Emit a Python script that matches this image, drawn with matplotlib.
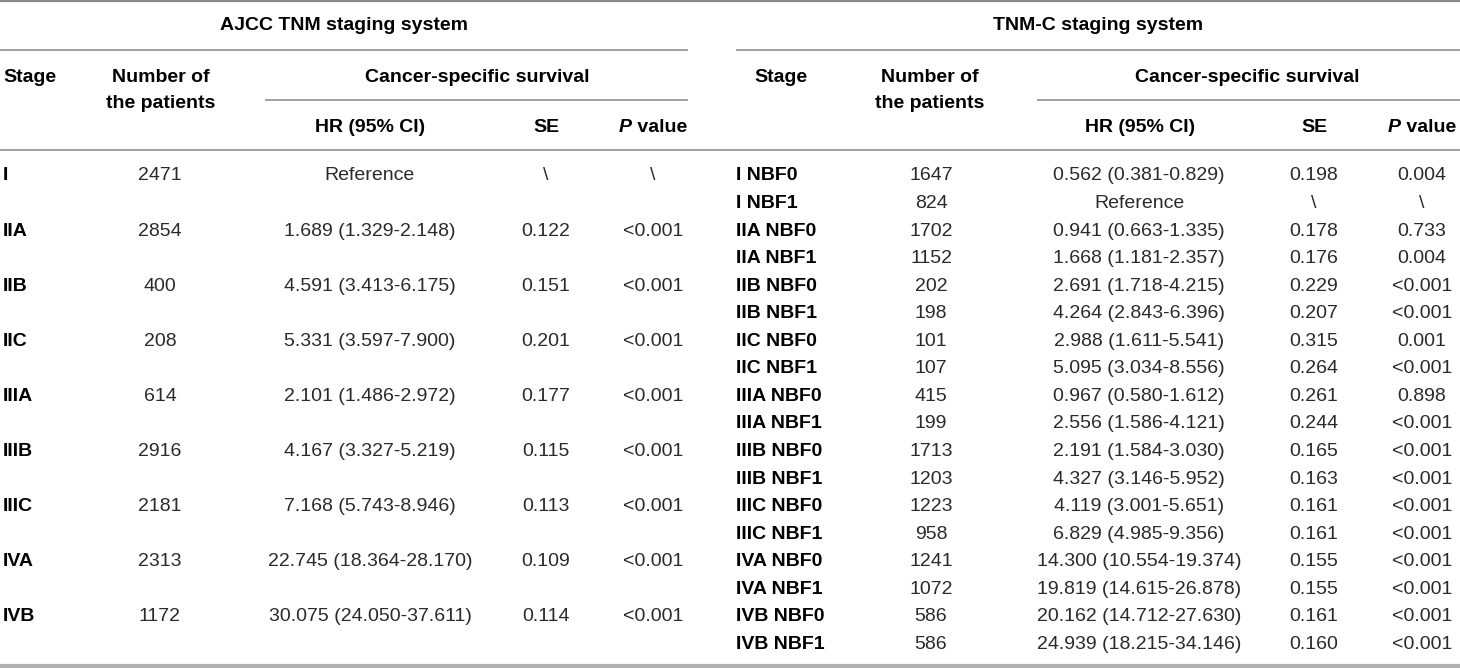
import matplotlib
matplotlib.use("Agg")
import matplotlib.pyplot as plt

plt.rcParams["font.family"] = ["Liberation Sans", "DejaVu Sans"]

# ---- table contents ----
ajcc_stage = ["I", "IIA", "IIB", "IIC", "IIIA", "IIIB", "IIIC", "IVA", "IVB"]
ajcc_n = ["2471", "2854", "400", "208", "614", "2916", "2181", "2313", "1172"]
ajcc_hr = ["Reference", "1.689 (1.329-2.148)", "4.591 (3.413-6.175)",
           "5.331 (3.597-7.900)", "2.101 (1.486-2.972)", "4.167 (3.327-5.219)",
           "7.168 (5.743-8.946)", "22.745 (18.364-28.170)", "30.075 (24.050-37.611)"]
ajcc_se = ["\\", "0.122", "0.151", "0.201", "0.177", "0.115", "0.113", "0.109", "0.114"]
ajcc_p = ["\\", "<0.001", "<0.001", "<0.001", "<0.001", "<0.001", "<0.001", "<0.001", "<0.001"]

tnmc_stage = ["I NBF0", "I NBF1", "IIA NBF0", "IIA NBF1", "IIB NBF0", "IIB NBF1",
              "IIC NBF0", "IIC NBF1", "IIIA NBF0", "IIIA NBF1", "IIIB NBF0", "IIIB NBF1",
              "IIIC NBF0", "IIIC NBF1", "IVA NBF0", "IVA NBF1", "IVB NBF0", "IVB NBF1"]
tnmc_n = ["1647", "824", "1702", "1152", "202", "198", "101", "107", "415", "199",
          "1713", "1203", "1223", "958", "1241", "1072", "586", "586"]
tnmc_hr = ["0.562 (0.381-0.829)", "Reference", "0.941 (0.663-1.335)", "1.668 (1.181-2.357)",
           "2.691 (1.718-4.215)", "4.264 (2.843-6.396)", "2.988 (1.611-5.541)",
           "5.095 (3.034-8.556)", "0.967 (0.580-1.612)", "2.556 (1.586-4.121)",
           "2.191 (1.584-3.030)", "4.327 (3.146-5.952)", "4.119 (3.001-5.651)",
           "6.829 (4.985-9.356)", "14.300 (10.554-19.374)", "19.819 (14.615-26.878)",
           "20.162 (14.712-27.630)", "24.939 (18.215-34.146)"]
tnmc_se = ["0.198", "\\", "0.178", "0.176", "0.229", "0.207", "0.315", "0.264", "0.261",
           "0.244", "0.165", "0.163", "0.161", "0.161", "0.155", "0.155", "0.161", "0.160"]
tnmc_p = ["0.004", "\\", "0.733", "0.004", "<0.001", "<0.001", "0.001", "<0.001", "0.898",
          "<0.001", "<0.001", "<0.001", "<0.001", "<0.001", "<0.001", "<0.001", "<0.001",
          "<0.001"]

W, H = 1460, 668
fig = plt.figure(figsize=(W / 100, H / 100), dpi=100)
ax = fig.add_axes([0, 0, 1, 1])
ax.set_xlim(0, W)
ax.set_ylim(H, 0)
ax.axis("off")

FS = 14
BODY = "#2a2a2a"
LINE = "#9a9a9a"


def hline(y, x0, x1, lw=1.3, color=LINE):
    ax.plot([x0, x1], [y, y], color=color, lw=lw, solid_capstyle="butt")


def pvalue_header(xc, y):
    # "P" in bold italic, " value" in bold, centred as a pair
    t = ax.text(xc - 34, y, "P", fontsize=FS, fontweight="bold", fontstyle="italic",
                ha="left", va="center")
    ax.annotate(" value", xy=(1, 0.5), xycoords=t, fontsize=FS, fontweight="bold",
                ha="left", va="center")


# rules
hline(1, 0, W, lw=1.6, color="#8a8a8a")
hline(50, 0, 688)
hline(50, 736, W)
hline(100, 265, 688)
hline(100, 1037, W)
hline(150, 0, W)
hline(666, 0, W, lw=3, color="#b0b0b0")

# group headers
ax.text(344, 25, "AJCC TNM staging system", fontsize=FS, fontweight="bold",
        ha="center", va="center")
ax.text(1098, 25, "TNM-C staging system", fontsize=FS, fontweight="bold",
        ha="center", va="center")

# left column headers
ax.text(3, 77, "Stage", fontsize=FS, fontweight="bold", ha="left", va="center")
ax.text(161, 77, "Number of", fontsize=FS, fontweight="bold", ha="center", va="center")
ax.text(161, 103, "the patients", fontsize=FS, fontweight="bold", ha="center", va="center")
ax.text(477, 77, "Cancer-specific survival", fontsize=FS, fontweight="bold",
        ha="center", va="center")
ax.text(370, 127, "HR (95% CI)", fontsize=FS, fontweight="bold", ha="center", va="center")
ax.text(546, 127, "SE", fontsize=FS, fontweight="bold", ha="center", va="center")
pvalue_header(653, 127)

# right column headers
ax.text(781, 77, "Stage", fontsize=FS, fontweight="bold", ha="center", va="center")
ax.text(930, 77, "Number of", fontsize=FS, fontweight="bold", ha="center", va="center")
ax.text(930, 103, "the patients", fontsize=FS, fontweight="bold", ha="center", va="center")
ax.text(1247, 77, "Cancer-specific survival", fontsize=FS, fontweight="bold",
        ha="center", va="center")
ax.text(1140, 127, "HR (95% CI)", fontsize=FS, fontweight="bold", ha="center", va="center")
ax.text(1314, 127, "SE", fontsize=FS, fontweight="bold", ha="center", va="center")
pvalue_header(1422, 127)

# left body
y0 = 176
left_step = 55.1
for i, st in enumerate(ajcc_stage):
    y = y0 + i * left_step
    ax.text(3, y, st, fontsize=FS, fontweight="bold", ha="left", va="center")
    ax.text(160, y, ajcc_n[i], fontsize=FS, color=BODY, ha="center", va="center")
    ax.text(370, y, ajcc_hr[i], fontsize=FS, color=BODY, ha="center", va="center")
    ax.text(546, y, ajcc_se[i], fontsize=FS, color=BODY, ha="center", va="center")
    ax.text(653, y, ajcc_p[i], fontsize=FS, color=BODY, ha="center", va="center")

# right body
right_step = 27.55
for i, st in enumerate(tnmc_stage):
    y = y0 + i * right_step
    ax.text(736, y, st, fontsize=FS, fontweight="bold", ha="left", va="center")
    ax.text(931, y, tnmc_n[i], fontsize=FS, color=BODY, ha="center", va="center")
    ax.text(1139, y, tnmc_hr[i], fontsize=FS, color=BODY, ha="center", va="center")
    ax.text(1314, y, tnmc_se[i], fontsize=FS, color=BODY, ha="center", va="center")
    ax.text(1422, y, tnmc_p[i], fontsize=FS, color=BODY, ha="center", va="center")

fig.savefig("out.png", dpi=100, facecolor="white")
plt.close(fig)
